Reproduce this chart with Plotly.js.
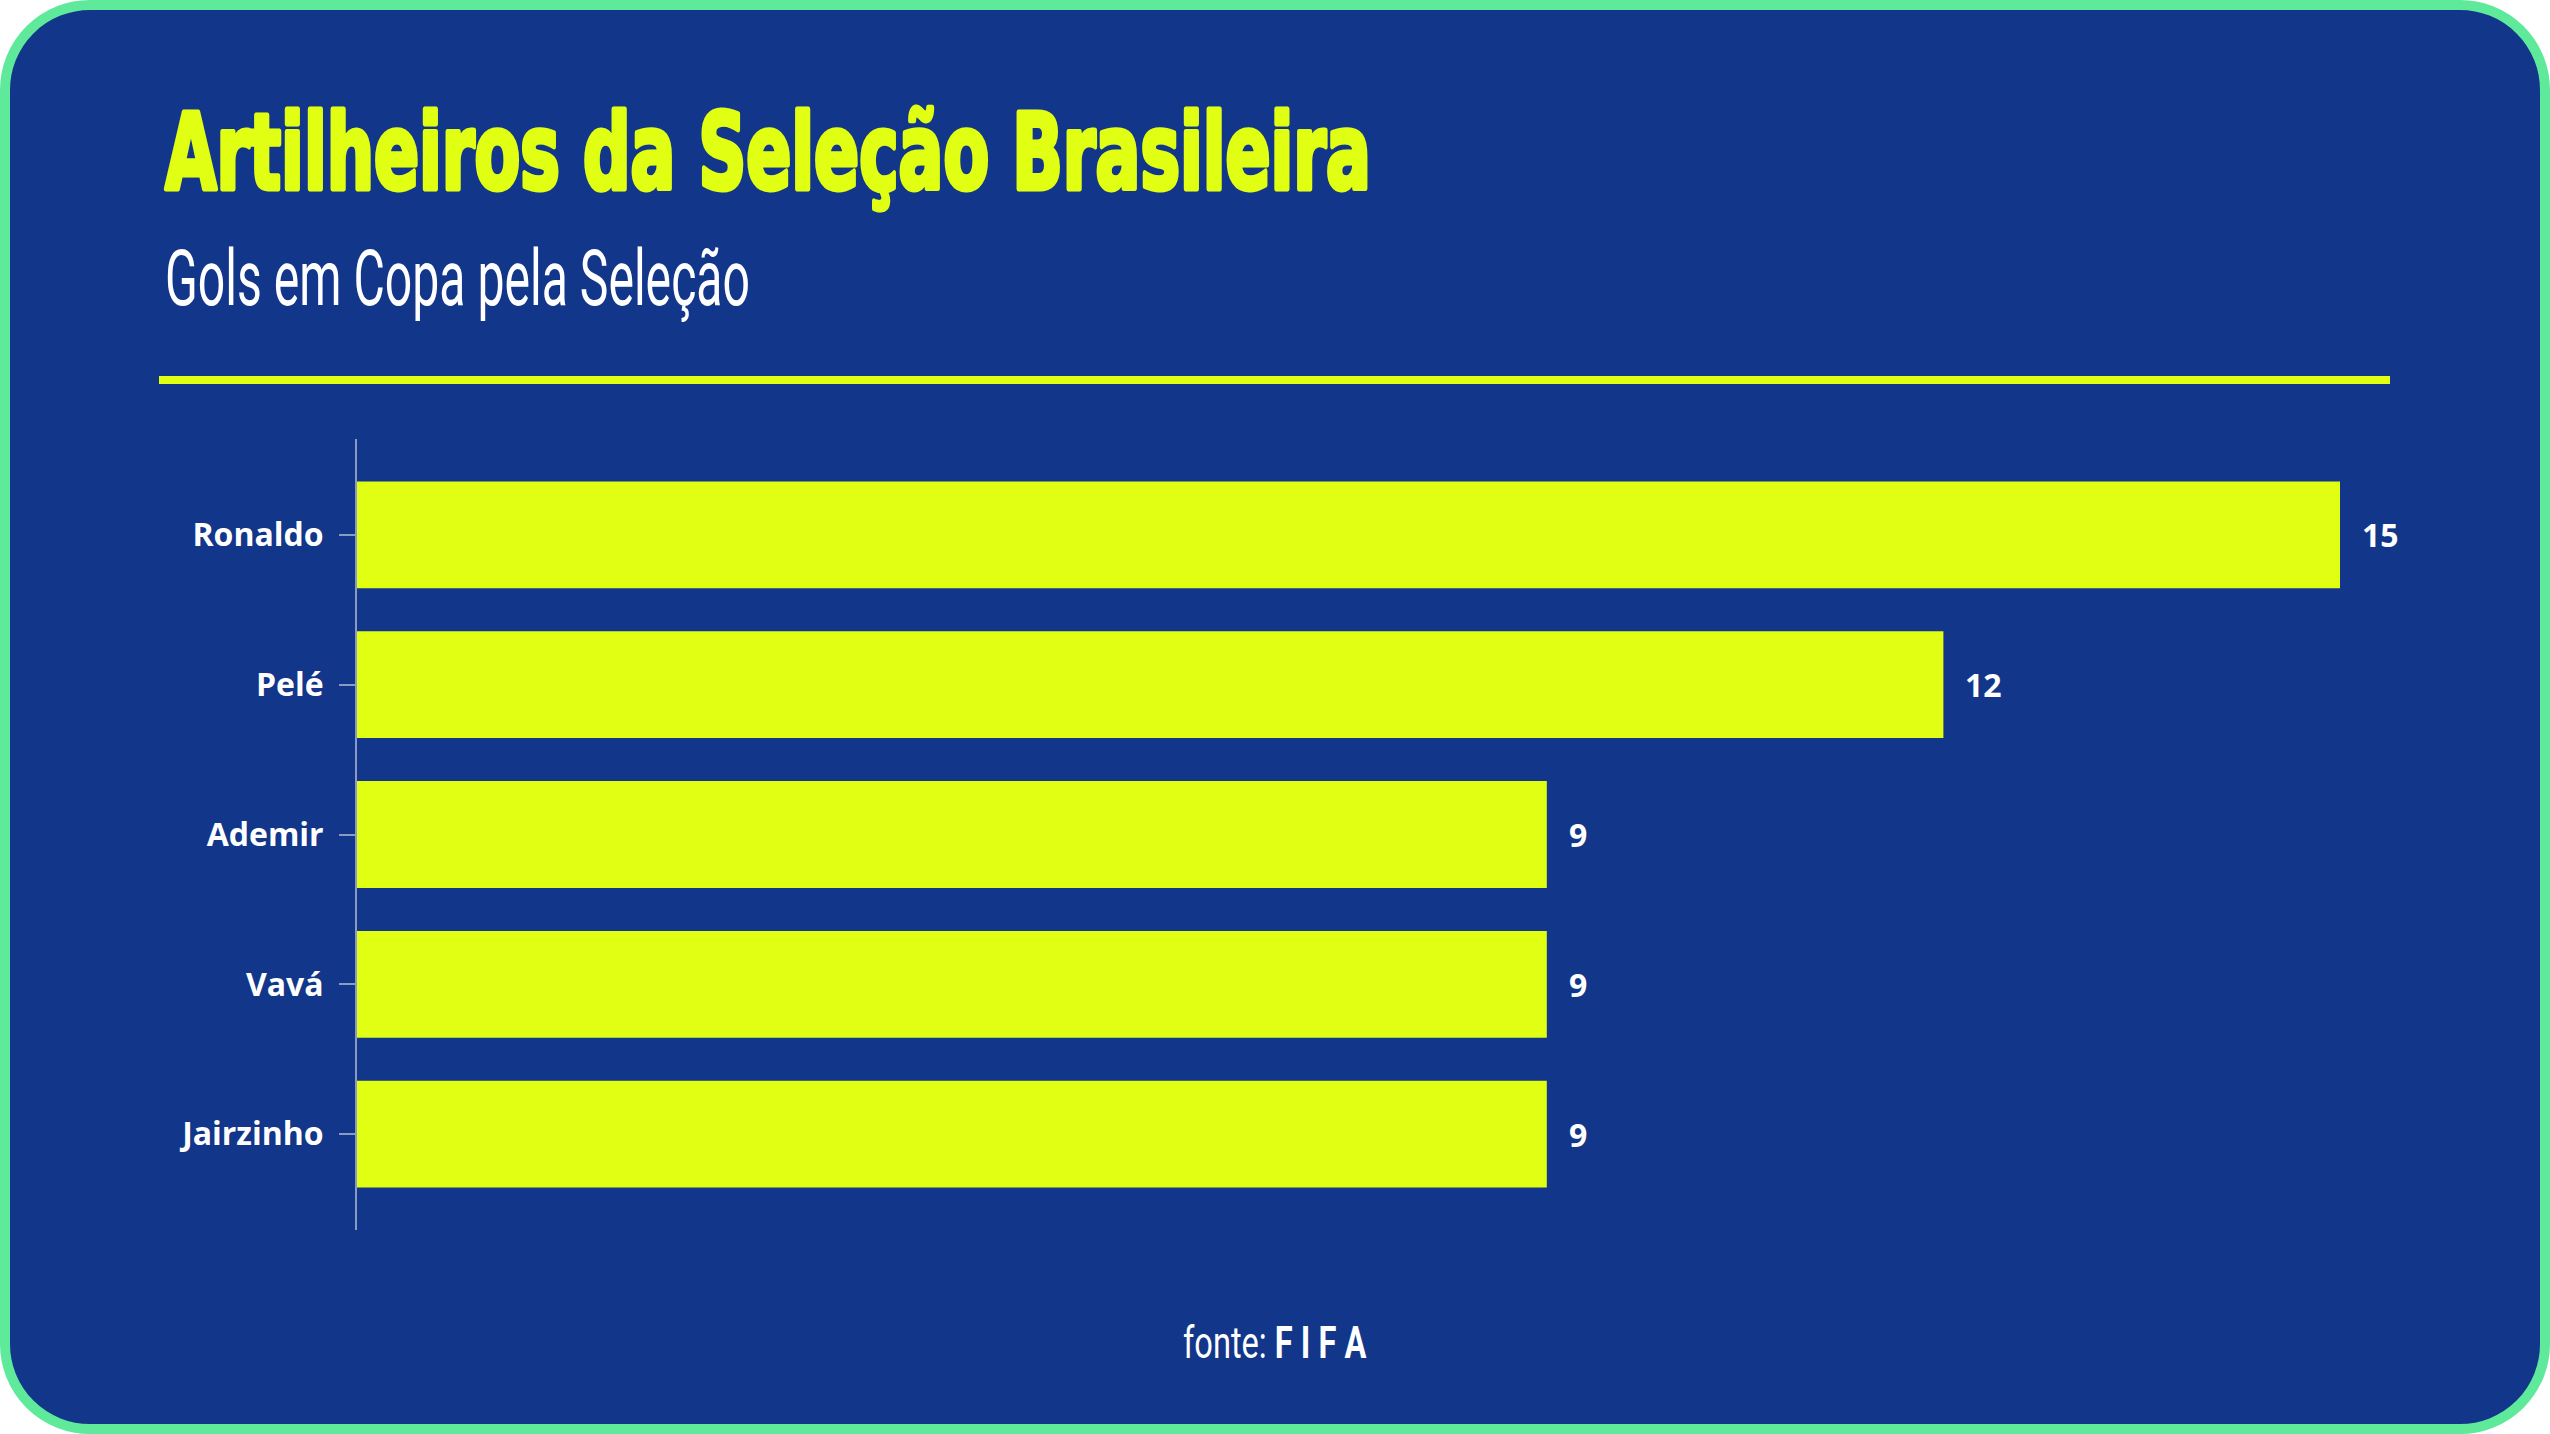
<!DOCTYPE html>
<html>
<head>
<meta charset="utf-8">
<script src="https://cdn.plot.ly/plotly-3.0.1.min.js"></script>
<style>
  html, body { margin: 0; padding: 0; background: #ffffff; }
  #frame {
    position: absolute; left: 0; top: 0; width: 2550px; height: 1434px;
    box-sizing: border-box; border: 10px solid #5fe99a; border-radius: 90px;
    background: #12368a;
  }
  #chart { position: absolute; left: 0; top: 0; width: 2550px; height: 1434px; }
</style>
</head>
<body>
<div id="frame"></div>
<div id="chart"></div>
<script>
// ---- data ----
const categories = ['Ronaldo', 'Pelé', 'Ademir', 'Vavá', 'Jairzinho'];
const goals = [15, 12, 9, 9, 9];
const titleText = 'Artilheiros da Seleção Brasileira';
const subtitleText = 'Gols em Copa pela Seleção';
const sourceText = 'fonte: <b>F I F A</b>';

// ---- style ----
const BLUE = '#12368a';
const YELLOW = '#e1ff12';
const AXIS = 'rgba(255,255,255,0.5)';

const W = 2550, H = 1434;
const M = { l: 357, r: 150, t: 439, b: 204 };
const pw = W - M.l - M.r, ph = H - M.t - M.b;
const px = x => (x - M.l) / pw;          // page pixel -> paper x
const py = y => (H - M.b - y) / ph;      // page pixel -> paper y

const trace = {
  type: 'bar',
  orientation: 'h',
  x: goals,
  y: categories,
  marker: { color: YELLOW, line: { width: 0 } },
  hoverinfo: 'none'
};

const valueAnnotations = categories.map((c, i) => ({
  xref: 'x', yref: 'y', x: goals[i], y: c,
  text: String(goals[i]), showarrow: false,
  xanchor: 'left', yanchor: 'middle', xshift: 20,
  font: { family: 'Open Sans', size: 32, color: '#ffffff', weight: 700 }
}));

const textAnnotations = [
  { xref: 'paper', yref: 'paper', x: px(163), y: py(152), text: titleText, showarrow: false,
    xanchor: 'left', yanchor: 'middle',
    font: { family: 'DejaVu Sans Condensed', size: 106, color: YELLOW, weight: 700 } },
  { xref: 'paper', yref: 'paper', x: px(163), y: py(279), text: subtitleText, showarrow: false,
    xanchor: 'left', yanchor: 'middle',
    font: { family: 'Roboto', size: 77, color: '#ffffff', weight: 400 } },
  { xref: 'paper', yref: 'paper', x: px(1275), y: py(1342), text: sourceText, showarrow: false,
    xanchor: 'center', yanchor: 'middle',
    font: { family: 'Roboto', size: 45, color: '#ffffff', weight: 400 } }
];

const layout = {
  width: W, height: H,
  margin: M,
  paper_bgcolor: 'rgba(0,0,0,0)',
  plot_bgcolor: 'rgba(0,0,0,0)',
  showlegend: false,
  bargap: 0.287,
  xaxis: { range: [0, pw / 132.2], visible: false, fixedrange: true },
  yaxis: {
    type: 'category',
    categoryarray: categories,
    range: [4.64, -0.64],
    showline: true, linecolor: AXIS, linewidth: 2,
    ticks: 'outside', ticklen: 16, tickwidth: 2, tickcolor: AXIS,
    ticklabelstandoff: 9,
    showgrid: false, zeroline: false,
    tickfont: { family: 'Open Sans', size: 32, color: '#ffffff', weight: 700 },
    fixedrange: true
  },
  shapes: [
    { type: 'rect', xref: 'paper', yref: 'paper', layer: 'above',
      x0: px(159), x1: px(2390), y0: py(384), y1: py(376),
      fillcolor: YELLOW, line: { width: 0 } }
  ],
  annotations: textAnnotations.concat(valueAnnotations)
};

Plotly.newPlot('chart', [trace], layout, { displayModeBar: false, staticPlot: true }).then(() => {
  // condense the display texts to the reference widths (the reference uses a condensed face)
  const targets = [
    { idx: 0, width: 1206, origin: '0% 50%', stroke: 5 },
    { idx: 1, width: 585, origin: '0% 50%', stroke: 0 },
    { idx: 2, width: 184, origin: '50% 50%', stroke: 0 }
  ];
  targets.forEach(t => {
    const g = document.querySelector('g.annotation[data-index="' + t.idx + '"]');
    if (!g) return;
    const txt = g.querySelector('text');
    if (!txt) return;
    if (t.stroke) {
      txt.style.stroke = YELLOW;
      txt.style.strokeWidth = t.stroke + 'px';
      txt.style.strokeLinejoin = 'round';
    }
    const bb = txt.getBBox();
    const k = t.width / bb.width;
    txt.style.transformBox = 'fill-box';
    txt.style.transformOrigin = t.origin;
    txt.style.transform = 'scaleX(' + k + ')';
  });
});
</script>
</body>
</html>
